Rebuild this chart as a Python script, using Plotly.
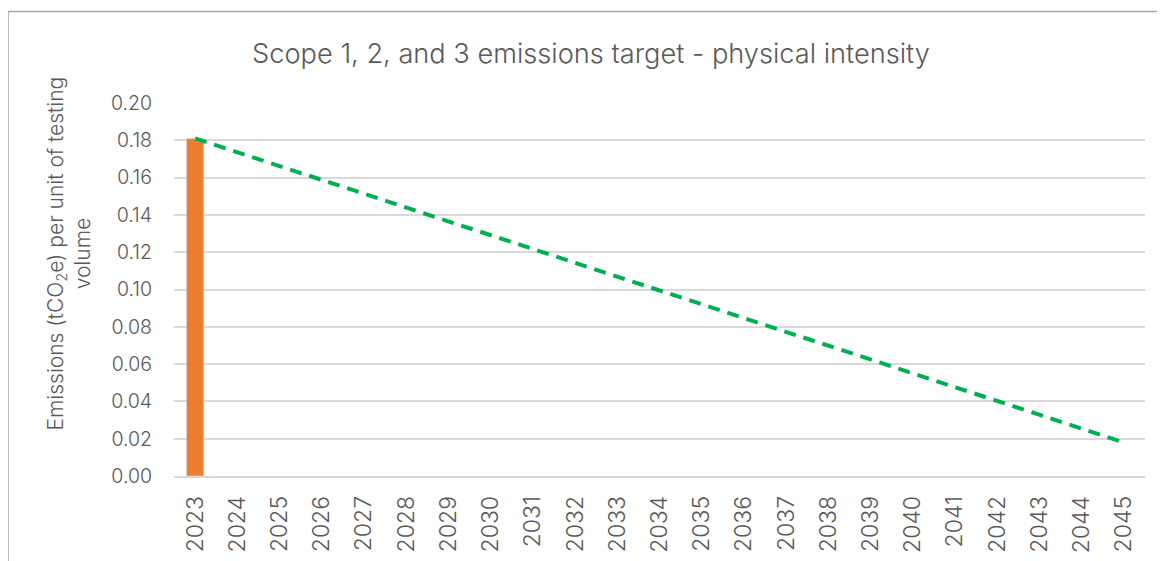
import plotly.graph_objects as go

years = [str(y) for y in range(2023, 2046)]
actual_years = ["2023"]
actual_values = [0.181]
target_years = ["2023", "2045"]
target_values = [0.181, 0.018]
y_ticks = [0.00, 0.02, 0.04, 0.06, 0.08, 0.10, 0.12, 0.14, 0.16, 0.18, 0.20]

FONT = "Inter"
GREY = "#595959"

# page offset of the figure inside the browser window (default body margin)
OX, OY = 8, 8
W, H = 1165, 561
FW, FH = W - OX, H - OY
# plot area in window pixels
PL, PR, PT, PB = 174, 1145, 103, 476
L, R, T, B = PL - OX, W - PR, PT - OY, H - PB
pw, ph = PR - PL, PB - PT

def px_x(x):
    return (x - PL) / pw

def px_y(y):
    return 1 - (y - PT) / ph

fig = go.Figure()
fig.add_trace(go.Bar(x=actual_years, y=actual_values, marker_color="#ED7D31",
                     width=0.41, showlegend=False))
fig.add_trace(go.Scatter(x=target_years, y=target_values, mode="lines",
                         line=dict(color="#00B050", width=4, dash="12px,8px"),
                         showlegend=False))

fig.update_layout(
    width=FW, height=FH,
    margin=dict(l=L, r=R, t=T, b=B, autoexpand=False),
    paper_bgcolor="white", plot_bgcolor="white",
    font=dict(family=FONT, color=GREY, size=19, weight=300),
    title=dict(text="Scope 1, 2, and 3 emissions target - physical intensity",
               x=(591 - OX) / FW, xref="container", xanchor="center",
               y=1 - (53 - OY) / FH, yref="container", yanchor="middle",
               font=dict(size=27.2, color=GREY, family=FONT, weight=300)),
)
fig.update_xaxes(type="category", categoryorder="array", categoryarray=years,
                 range=[-0.5, len(years) - 0.5],
                 tickvals=years, ticktext=years, tickangle=-90,
                 showgrid=False, showline=True, linecolor="#D9D9D9", linewidth=1.5,
                 ticks="", ticklabelstandoff=9,
                 tickfont=dict(size=23, color=GREY, family=FONT, weight=300))
fig.update_yaxes(range=[0, 0.2], tickvals=y_ticks, tickformat=".2f",
                 showgrid=True, gridcolor="#D9D9D9", gridwidth=1.5,
                 zeroline=False, showline=False, ticks="",
                 ticklabelstandoff=21,
                 tickfont=dict(size=19.5, color=GREY, family=FONT, weight=300))

fig.add_annotation(text="Emissions (tCO<sub>2</sub>e) per unit of testing<br>volume",
                   xref="paper", yref="paper", x=px_x(68.5), y=px_y(254),
                   textangle=-90, showarrow=False, xanchor="center", yanchor="middle",
                   font=dict(size=21, color=GREY, family=FONT, weight=300))

fig.add_shape(type="rect", xref="paper", yref="paper",
              x0=px_x(8), x1=px_x(1200), y0=px_y(600), y1=px_y(11.5),
              line=dict(color="#A6A6A6", width=1.5), fillcolor="rgba(0,0,0,0)",
              layer="below")

fig.write_html("out.html")
